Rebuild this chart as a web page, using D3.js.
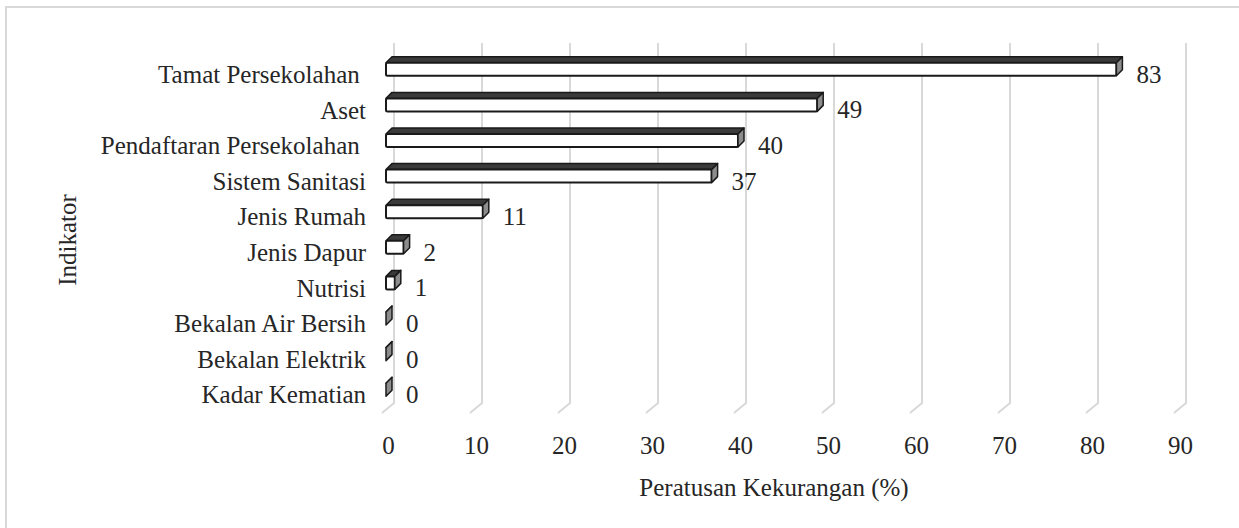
<!DOCTYPE html>
<html>
<head>
<meta charset="utf-8">
<title>Peratusan Kekurangan</title>
<script src="https://d3js.org/d3.v7.min.js"></script>
<style>
  body { margin: 0; background: #fff; }
  svg { display: block; font-family: "Liberation Serif", "Times New Roman", serif; }
  text { fill: #262626; white-space: pre; }
</style>
</head>
<body>
<svg width="1239" height="528"></svg>
<script>
// chart data
const categories = [
  "Tamat Persekolahan ", "Aset", "Pendaftaran Persekolahan ", "Sistem Sanitasi",
  "Jenis Rumah", "Jenis Dapur", "Nutrisi", "Bekalan Air Bersih",
  "Bekalan Elektrik", "Kadar Kematian"
];
const values = [83, 49, 40, 37, 11, 2, 1, 0, 0, 0];
const ticks = [0, 10, 20, 30, 40, 50, 60, 70, 80, 90];

const FONT = "Liberation Serif";
const FS = 25;

const svg = d3.select("svg");

// outer frame (runs off the right and bottom of the picture)
svg.append("rect")
  .attr("x", 6).attr("y", 7)
  .attr("width", 1400).attr("height", 700)
  .attr("fill", "none")
  .attr("stroke", "#d9d9d9")
  .attr("stroke-width", 2);

const x = d3.scaleLinear().domain([0, 90]).range([386, 1178]);
const y = d3.scaleBand().domain(categories).range([57, 413]).padding(0);

// 3d offsets
const wall = { dx: 8, top: 43, bottom: 403, fdx: -12, fdy: 10 };
const depth = { dx: 6, dy: -6 };

// back wall gridlines with the floor step
svg.append("g")
  .selectAll("path")
  .data(ticks)
  .join("path")
  .attr("d", d => {
    const xb = x(d) + wall.dx;
    return `M${xb},${wall.top}V${wall.bottom}l${wall.fdx},${wall.fdy}`;
  })
  .attr("fill", "none")
  .attr("stroke", "#d9d9d9")
  .attr("stroke-width", 2);

// bars
const bars = svg.append("g")
  .selectAll("g")
  .data(categories.map((c, i) => ({ c, v: values[i] })))
  .join("g");

const yc = d => y(d.c) + y.bandwidth() / 2;
const y0 = d => yc(d) - 12;
const y1 = d => yc(d) + 1;

// top face
bars.append("path")
  .attr("d", d => {
    const a = x(0), b = x(d.v);
    return `M${a},${y0(d)}l${depth.dx},${depth.dy}H${b + depth.dx}L${b},${y0(d)}Z`;
  })
  .attr("fill", "#3a3a3a")
  .attr("stroke", "#1a1a1a")
  .attr("stroke-width", 1.5)
  .attr("stroke-linejoin", "round");

// front face
bars.append("rect")
  .attr("x", d => x(0))
  .attr("y", y0)
  .attr("width", d => x(d.v) - x(0))
  .attr("height", d => y1(d) - y0(d))
  .attr("fill", "#fff")
  .attr("stroke", "#1a1a1a")
  .attr("stroke-width", 2)
  .attr("rx", 1.5);

// end face
bars.append("path")
  .attr("d", d => {
    const b = x(d.v);
    return `M${b},${y0(d)}l${depth.dx},${depth.dy}V${y1(d) + depth.dy}L${b},${y1(d)}Z`;
  })
  .attr("fill", "#8c8c8c")
  .attr("stroke", "#1a1a1a")
  .attr("stroke-width", 1.5)
  .attr("stroke-linejoin", "round");

// value labels
bars.append("text")
  .attr("x", d => x(d.v) + depth.dx + 14)
  .attr("y", d => yc(d) + 8)
  .attr("font-family", FONT)
  .attr("font-size", FS)
  .text(d => d.v);

// category axis
const yAxis = svg.append("g")
  .attr("transform", "translate(366,0)")
  .call(d3.axisLeft(y).tickSize(0).tickPadding(0));
yAxis.attr("font-family", FONT).attr("font-size", FS);
yAxis.select(".domain").remove();
yAxis.selectAll("text")
  .attr("fill", "#262626")
  .attr("dy", "0.33em");

// value axis
const xAxis = svg.append("g")
  .attr("transform", "translate(2,436)")
  .call(d3.axisBottom(x).tickValues(ticks).tickSize(0).tickPadding(0));
xAxis.attr("font-family", FONT).attr("font-size", FS);
xAxis.select(".domain").remove();
xAxis.selectAll("text")
  .attr("fill", "#262626");

// axis titles
svg.append("text")
  .attr("x", 774).attr("y", 496)
  .attr("text-anchor", "middle")
  .attr("font-family", FONT)
  .attr("font-size", FS)
  .text("Peratusan Kekurangan (%)");

svg.append("text")
  .attr("transform", "translate(76,240) rotate(-90)")
  .attr("text-anchor", "middle")
  .attr("font-family", FONT)
  .attr("font-size", FS)
  .text("Indikator");
</script>
</body>
</html>
